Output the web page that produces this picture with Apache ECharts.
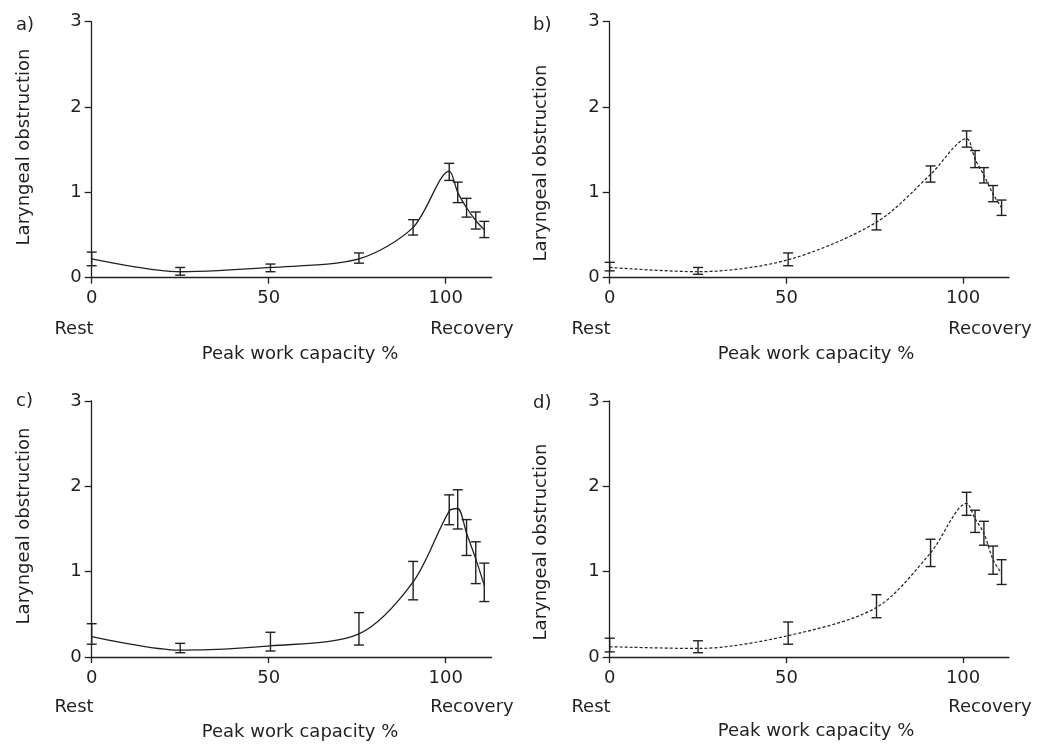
<!DOCTYPE html>
<html>
<head>
<meta charset="utf-8">
<script src="https://cdn.jsdelivr.net/npm/echarts@6/dist/echarts.min.js"></script>
<style>
html,body{margin:0;padding:0;background:#fff;}
#chart{width:1048px;height:744px;}
</style>
</head>
<body>
<div id="chart"></div>
<script>
// Shared x positions (% peak work capacity; points beyond 100 = recovery)
const xPositions = [0, 25, 50.5, 75.5, 90.8, 101, 103.4, 105.9, 108.5, 110.9];
const xTickValues = [0, 50, 100];
const yTickValues = [0, 1, 2, 3];
const panelLetters = ['a)', 'b)', 'c)', 'd)'];

// Panel a (solid)
const aMean = [0.22, 0.07, 0.12, 0.22, 0.59, 1.25, 1.0, 0.82, 0.67, 0.56];
const aLow  = [0.14, 0.03, 0.07, 0.17, 0.50, 1.14, 0.88, 0.71, 0.57, 0.47];
const aHigh = [0.30, 0.12, 0.16, 0.29, 0.68, 1.34, 1.12, 0.93, 0.77, 0.66];
// Panel b (dotted)
const bMean = [0.12, 0.07, 0.21, 0.65, 1.21, 1.63, 1.39, 1.20, 0.98, 0.82];
const bLow  = [0.08, 0.04, 0.14, 0.56, 1.12, 1.53, 1.29, 1.11, 0.89, 0.73];
const bHigh = [0.18, 0.12, 0.29, 0.75, 1.31, 1.72, 1.49, 1.29, 1.08, 0.91];
// Panel c (solid)
const cMean = [0.24, 0.08, 0.13, 0.27, 0.88, 1.71, 1.74, 1.45, 1.15, 0.84];
const cLow  = [0.15, 0.05, 0.07, 0.14, 0.67, 1.55, 1.50, 1.19, 0.86, 0.65];
const cHigh = [0.39, 0.16, 0.29, 0.52, 1.12, 1.90, 1.96, 1.61, 1.35, 1.10];
// Panel d (dotted)
const dMean = [0.12, 0.10, 0.25, 0.58, 1.22, 1.80, 1.62, 1.45, 1.14, 0.98];
const dLow  = [0.06, 0.05, 0.15, 0.46, 1.06, 1.66, 1.46, 1.31, 0.97, 0.85];
const dHigh = [0.22, 0.19, 0.41, 0.73, 1.38, 1.93, 1.72, 1.59, 1.30, 1.14];

const INK = '#231f20';
const FONT = '"DejaVu Sans"';
const FS = 18;

const panels = [
  {mean: aMean, low: aLow, high: aHigh, dashed: false},
  {mean: bMean, low: bLow, high: bHigh, dashed: true},
  {mean: cMean, low: cLow, high: cHigh, dashed: false},
  {mean: dMean, low: dLow, high: dHigh, dashed: true}
];

const grids = [
  {left: 91.7, top: 21.7, width: 400, height: 256},
  {left: 609.7, top: 21.7, width: 399.3, height: 256},
  {left: 91.7, top: 401, width: 400, height: 256},
  {left: 609.7, top: 401, width: 399.3, height: 256}
];

const axisLineStyle = {color: INK, width: 1.3};

const xAxes = grids.map((g, i) => ({
  type: 'value', gridIndex: i, min: 0, max: 113,
  axisLine: {show: true, lineStyle: axisLineStyle, onZero: false},
  axisTick: {show: true, length: 6, lineStyle: axisLineStyle, customValues: xTickValues},
  axisLabel: {customValues: xTickValues, color: INK, fontFamily: FONT, fontSize: FS, margin: 12},
  splitLine: {show: false}
}));
const yAxes = grids.map((g, i) => ({
  type: 'value', gridIndex: i, min: 0, max: 3, interval: 1,
  axisLine: {show: true, lineStyle: axisLineStyle, onZero: false},
  axisTick: {show: true, length: 7, lineStyle: axisLineStyle},
  axisLabel: {color: INK, fontFamily: FONT, fontSize: FS, margin: 10},
  splitLine: {show: false}
}));

function errRender(params, api) {
  const x = api.value(0), lo = api.value(1), hi = api.value(2);
  const p1 = api.coord([x, lo]);
  const p2 = api.coord([x, hi]);
  const w = 5;
  const st = {stroke: INK, lineWidth: 1.4};
  return {
    type: 'group',
    children: [
      {type: 'line', shape: {x1: p1[0], y1: p1[1], x2: p2[0], y2: p2[1]}, style: st},
      {type: 'line', shape: {x1: p1[0] - w, y1: p1[1], x2: p1[0] + w, y2: p1[1]}, style: st},
      {type: 'line', shape: {x1: p2[0] - w, y1: p2[1], x2: p2[0] + w, y2: p2[1]}, style: st}
    ]
  };
}

const series = [];
panels.forEach((p, i) => {
  series.push({
    type: 'line', xAxisIndex: i, yAxisIndex: i,
    data: xPositions.map((x, k) => [x, p.mean[k]]),
    showSymbol: false, smooth: 0.3, silent: true,
    lineStyle: {color: INK, width: p.dashed ? 1.2 : 1.3, type: p.dashed ? [3, 2] : 'solid'}
  });
  series.push({
    type: 'custom', xAxisIndex: i, yAxisIndex: i, clip: false,
    renderItem: errRender, silent: true,
    encode: {x: 0, y: [1, 2]},
    data: xPositions.map((x, k) => [x, p.low[k], p.high[k]])
  });
});

// Text placement (centers in px)
const textLayout = [
  {letter: [16, 25], ytitle: [24, 147], rest: [74, 329], rec: [472, 329], xtitle: [300, 354]},
  {letter: [533, 25], ytitle: [541, 163], rest: [591, 329], rec: [990, 329], xtitle: [816, 354]},
  {letter: [16, 401], ytitle: [24, 526], rest: [74, 707], rec: [472, 707], xtitle: [300, 732]},
  {letter: [533, 403], ytitle: [541, 542], rest: [591, 707], rec: [990, 707], xtitle: [816, 731]}
];
const txt = (s, x, y, align, rot) => ({
  type: 'text', x: x, y: y, rotation: rot || 0,
  style: {text: s, fill: INK, font: FS + 'px ' + FONT, align: align || 'center', verticalAlign: 'middle'}
});
const graphics = [];
textLayout.forEach((t, i) => {
  graphics.push(txt(panelLetters[i], t.letter[0], t.letter[1], 'left'));
  graphics.push(txt('Laryngeal obstruction', t.ytitle[0], t.ytitle[1], 'center', Math.PI / 2));
  graphics.push(txt('Rest', t.rest[0], t.rest[1]));
  graphics.push(txt('Recovery', t.rec[0], t.rec[1]));
  graphics.push(txt('Peak work capacity %', t.xtitle[0], t.xtitle[1]));
});

const chart = echarts.init(document.getElementById('chart'), null, {renderer: 'canvas'});
chart.setOption({
  backgroundColor: '#fff',
  animation: false,
  grid: grids,
  xAxis: xAxes,
  yAxis: yAxes,
  series: series,
  graphic: graphics
});
</script>
</body>
</html>
